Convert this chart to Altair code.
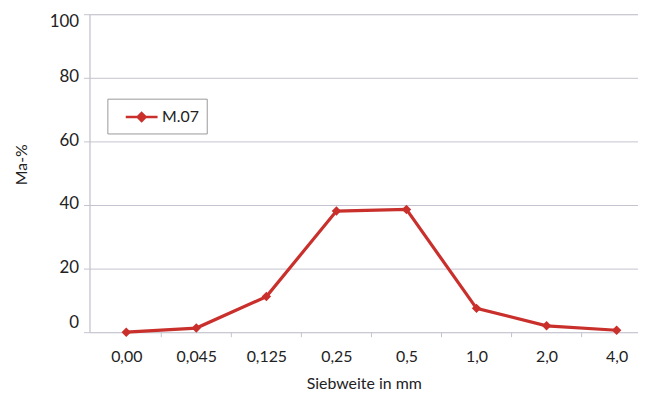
import altair as alt
import pandas as pd

categories = ["0,00", "0,045", "0,125", "0,25", "0,5", "1,0", "2,0", "4,0"]
values = [0.0, 1.3, 11.2, 38.1, 38.6, 7.5, 2.0, 0.6]
series_name = "M.07"
y_ticks = [0, 20, 40, 60, 80, 100]

df = pd.DataFrame({
    "idx": list(range(len(categories))),
    "cat": categories,
    "val": values,
    "series": [series_name] * len(categories),
})
bounds = pd.DataFrame({"b": [i + 0.5 for i in range(len(categories) - 1)]})

RED = "#c9302c"
GRID = "#c4c4d0"
FONT = "Lato"

label_expr = "{" + ",".join(f"'{i}':'{c}'" for i, c in enumerate(categories)) + "}[datum.value]"

x_scale = alt.Scale(domain=[-0.525, 7.305], nice=False, zero=False)
y_scale = alt.Scale(domain=[0, 100], nice=False)

x_enc = alt.X("idx:Q", scale=x_scale,
              axis=alt.Axis(values=list(range(len(categories))), labelExpr=label_expr,
                            title="Siebweite in mm", grid=False, domain=False, ticks=False,
                            labelPadding=16, labelFontSize=16, labelFont=FONT, labelColor="#222",
                            titleFont=FONT, titleFontSize=16, titleFontWeight="normal",
                            titleColor="#222", titlePadding=12))
y_enc = alt.Y("val:Q", scale=y_scale,
              axis=alt.Axis(values=y_ticks, title="Ma-%", grid=True, gridColor=GRID,
                            domainColor=GRID, tickColor=GRID, tickSize=6, labelPadding=5,
                            labelFlush=True, labelOffset=-1,
                            labelFontSize=17, labelFont=FONT, labelColor="#222",
                            titleFont=FONT, titleFontSize=16, titleFontWeight="normal",
                            titleColor="#222", titleX=-68, titleY=151, titleAngle=270,
                            titleAlign="center", titleBaseline="middle"))

line = alt.Chart(df).mark_line(strokeWidth=3.2).encode(
    x=x_enc, y=y_enc,
    color=alt.Color("series:N", scale=alt.Scale(range=[RED]),
                    legend=alt.Legend(title=None, orient="none", legendX=18, legendY=85,
                                      strokeColor="#999999", padding=7,
                                      symbolType="M0,0L3.2,0M1.6,-0.4L2.0,0L1.6,0.4L1.2,0Z",
                                      symbolSize=400, symbolStrokeWidth=2.5,
                                      symbolFillColor=RED, symbolStrokeColor=RED,
                                      labelFont=FONT, labelFontSize=16, labelColor="#222",
                                      labelOffset=25)),
)
pts = alt.Chart(df).mark_point(shape="diamond", filled=True, size=90, opacity=1, color=RED).encode(
    x=alt.X("idx:Q", scale=x_scale), y=alt.Y("val:Q", scale=y_scale))

ticks = alt.Chart(bounds).mark_rule(color=GRID, strokeWidth=1).encode(
    x=alt.X("b:Q", scale=x_scale), y=alt.value(320), y2=alt.value(325))

chart = alt.layer(ticks, line, pts).properties(
    width=552, height=320,
    autosize=alt.AutoSizeParams(type="none"),
    padding={"left": 82, "top": 5, "right": 0, "bottom": 70},
).configure_view(stroke=None).configure(background="white")

chart.save("out.html", embed_options={"renderer": "svg", "actions": False})
